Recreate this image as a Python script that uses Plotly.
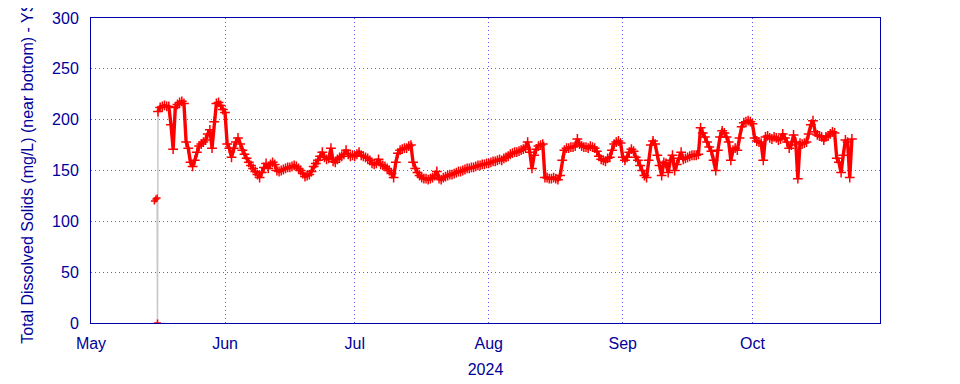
import plotly.graph_objects as go
import pandas as pd

# Early readings before the regular record (sensor install)
pre_times = ["2024-05-15 16:00", "2024-05-16 00:00", "2024-05-16 07:00", "2024-05-16 09:00"]
pre_values = [120, 122, 123, 0]

# Regular record: 12-hour readings starting 2024-05-16 12:00
start_time = "2024-05-16 12:00"
tds_values = [
    208, 212, 213, 214, 213, 213, 195, 171, 212, 215,
    217, 218, 216, 178, 172, 158, 154, 160, 168, 174,
    176, 178, 180, 186, 190, 172, 198, 216, 217, 214,
    210, 207, 176, 172, 163, 172, 178, 182, 176, 170,
    166, 162, 158, 155, 152, 149, 146, 143, 148, 153,
    157, 152, 156, 158, 156, 150, 149, 150, 151, 152,
    153, 153, 154, 155, 154, 152, 150, 147, 144, 145,
    146, 149, 154, 157, 160, 164, 168, 163, 161, 162,
    172, 159, 158, 161, 163, 164, 166, 170, 166, 164,
    165, 164, 166, 168, 165, 164, 163, 162, 160, 157,
    156, 157, 161, 156, 155, 154, 152, 150, 147, 143,
    158, 167, 170, 171, 172, 172, 174, 175, 158, 152,
    148, 145, 143, 142, 142, 141, 142, 143, 145, 149,
    142, 141, 143, 144, 145, 146, 146, 147, 148, 149,
    149, 150, 151, 152, 152, 153, 153, 154, 155, 155,
    156, 156, 157, 157, 158, 159, 159, 160, 161, 160,
    162, 163, 164, 166, 167, 168, 168, 169, 170, 171,
    173, 178, 168, 152, 165, 171, 174, 175, 176, 143,
    143, 142, 142, 143, 142, 141, 145, 160, 170, 172,
    172, 173, 173, 174, 181, 176, 174, 173, 173, 172,
    174, 173, 172, 169, 164, 161, 160, 159, 162, 163,
    170, 176, 178, 179, 177, 163, 160, 163, 168, 171,
    169, 163, 160, 155, 150, 145, 143, 160, 175, 179,
    176, 165, 155, 145, 158, 157, 148, 160, 165, 150,
    156, 162, 168, 161, 162, 163, 164, 165, 165, 165,
    166, 192, 187, 183, 178, 173, 169, 160, 150, 170,
    183, 189, 187, 183, 178, 160, 170, 172, 170, 182,
    193, 197, 198, 199, 198, 196, 182, 179, 178, 177,
    160, 183, 184, 182, 181, 183, 182, 180, 181, 186,
    182, 178, 172, 175, 185, 178, 142, 177, 176, 177,
    178, 186, 195, 199, 188, 185, 184, 183, 180, 183,
    184, 186, 188, 187, 162, 158, 148, 165, 180, 178,
    143, 181,
]

y_ticks = [0, 50, 100, 150, 200, 250, 300]
x_tick_dates = ["2024-05-01", "2024-06-01", "2024-07-01", "2024-08-01", "2024-09-01", "2024-10-01"]
x_tick_labels = ["May", "Jun", "Jul", "Aug", "Sep", "Oct"]

pre_t = list(pd.to_datetime(pre_times))
main_t = list(pd.date_range(start_time, periods=len(tds_values), freq="12h"))
times = pre_t + main_t
values = pre_values + tds_values

ink = "#000099"
axis_col = "#0000aa"
grid_col = "#5a5aff"
red = "#ff0000"

fig = go.Figure()
# connecting line (grey) through every reading
fig.add_trace(go.Scatter(
    x=times, y=values, mode="lines",
    line=dict(color="#c8c8c8", width=1.5),
    showlegend=False, hoverinfo="skip",
))
# dense red record
fig.add_trace(go.Scatter(
    x=main_t, y=tds_values, mode="lines+markers",
    line=dict(color=red, width=3.4),
    marker=dict(symbol="cross-thin", size=7, color=red, line=dict(color=red, width=1.5)),
    showlegend=False, hoverinfo="x+y",
))
fig.add_trace(go.Scatter(
    x=pre_t, y=pre_values, mode="markers",
    marker=dict(symbol="cross-thin", size=5, color=red, line=dict(color=red, width=1.5)),
    showlegend=False, hoverinfo="x+y",
))

# the page body adds an 8px offset, so margins are reduced accordingly
fig.update_layout(
    width=960, height=384,
    margin=dict(l=83, r=88, t=10, b=69),
    paper_bgcolor="white", plot_bgcolor="white",
    font=dict(family="Liberation Sans, Arial, sans-serif", size=16, color=ink),
)
fig.update_xaxes(
    range=["2024-05-01", "2024-10-30 12:00"],
    tickvals=x_tick_dates, ticktext=x_tick_labels,
    showgrid=True, gridcolor=grid_col, griddash="1px,3px", gridwidth=1,
    showline=True, linecolor=axis_col, linewidth=1, mirror=True,
    ticks="", ticklabelstandoff=6, automargin=False,
    title=dict(text="2024", font=dict(size=16, color=ink), standoff=12),
    zeroline=False,
)
fig.update_yaxes(
    range=[0, 300], tickvals=y_ticks,
    showgrid=True, gridcolor=grid_col, griddash="1px,3px", gridwidth=1,
    showline=True, linecolor=axis_col, linewidth=1, mirror=True,
    ticks="", ticklabelstandoff=8, automargin=False,
    title=dict(text="Total Dissolved Solids (mg/L) (near bottom) - YSI", font=dict(size=16, color=ink), standoff=14),
    zeroline=False,
)

fig.write_html("out.html")
